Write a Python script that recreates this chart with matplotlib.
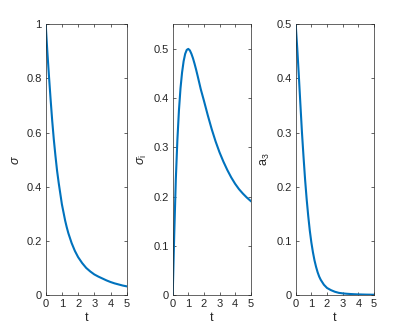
import matplotlib
matplotlib.use('Agg')
import matplotlib.pyplot as plt
import matplotlib.ticker as ticker

LINE_COLOR = '#0072bd'
AX_COLOR = '#262626'

# values
t = [0, 0.1, 0.2, 0.3, 0.4, 0.5, 0.6, 0.7, 0.8, 0.9, 1.0, 1.1, 1.2, 1.3, 1.4,
     1.5, 1.6, 1.8, 2.0, 2.25, 2.5, 2.75, 3.0, 3.25, 3.5, 3.75, 4.0, 4.25, 4.5,
     4.75, 5.0]
sigma = [1.0, 0.90, 0.81, 0.725, 0.645, 0.575, 0.515, 0.46, 0.415, 0.375, 0.335,
         0.305, 0.275, 0.25, 0.228, 0.21, 0.192, 0.163, 0.14, 0.118, 0.10, 0.087,
         0.076, 0.068, 0.061, 0.054, 0.048, 0.043, 0.039, 0.035, 0.032]
sigma_i = [0.0, 0.125, 0.235, 0.315, 0.375, 0.42, 0.452, 0.475, 0.49, 0.498, 0.50,
           0.497, 0.49, 0.481, 0.47, 0.458, 0.445, 0.418, 0.395, 0.365, 0.337,
           0.312, 0.29, 0.271, 0.254, 0.239, 0.226, 0.215, 0.206, 0.198, 0.191]
a3 = [0.5, 0.455, 0.405, 0.352, 0.30, 0.255, 0.213, 0.177, 0.146, 0.119, 0.097,
      0.079, 0.064, 0.052, 0.042, 0.034, 0.028, 0.019, 0.013, 0.009, 0.006,
      0.004, 0.003, 0.0023, 0.0018, 0.0014, 0.0011, 0.0009, 0.0007, 0.0006, 0.0005]

panels = [
    (sigma,   r'$\sigma$',          1.0,  [0, 0.2, 0.4, 0.6, 0.8, 1.0]),
    (sigma_i, r'$\sigma_{\rm i}$',  0.55, [0, 0.1, 0.2, 0.3, 0.4, 0.5]),
    (a3,      r'$\rm a_3$',         0.5,  [0, 0.1, 0.2, 0.3, 0.4, 0.5]),
]
x_ticks = [0, 1, 2, 3, 4, 5]

plt.rcParams.update({
    'font.family': 'Liberation Sans',
    'mathtext.fontset': 'custom',
    'mathtext.rm': 'Liberation Sans',
    'mathtext.it': 'Liberation Sans:italic',
    'font.size': 8,
    'axes.linewidth': 0.5,
    'axes.edgecolor': AX_COLOR,
    'xtick.color': AX_COLOR,
    'ytick.color': AX_COLOR,
    'xtick.direction': 'in',
    'ytick.direction': 'in',
    'xtick.major.size': 2.5,
    'ytick.major.size': 2.5,
    'xtick.major.width': 0.5,
    'ytick.major.width': 0.5,
})

fig = plt.figure(figsize=(3.99, 3.32), dpi=100)
lefts = [45.7, 172.7, 295.7]
widths = [81.0, 78.0, 78.3]
bottom = 1 - 295.0 / 332
height = (295.0 - 24.3) / 332

for (y, label, ymax, yt), left, w in zip(panels, lefts, widths):
    ax = fig.add_axes([left / 399, bottom, w / 399, height])
    ax.plot(t, y, color=LINE_COLOR, lw=1.5)
    ax.set_xlim(0, 5)
    ax.set_ylim(0, ymax)
    ax.set_xticks(x_ticks)
    ax.set_yticks(yt)
    ax.yaxis.set_major_formatter(ticker.FuncFormatter(lambda v, _: f'{v:g}'))
    ax.tick_params(top=True, right=True, labelsize=8, pad=3)
    ax.set_xlabel('t', fontsize=9, color=AX_COLOR, labelpad=2)
    ax.set_ylabel(label, fontsize=9, color=AX_COLOR, labelpad=3)

fig.savefig('out.png', dpi=100)
